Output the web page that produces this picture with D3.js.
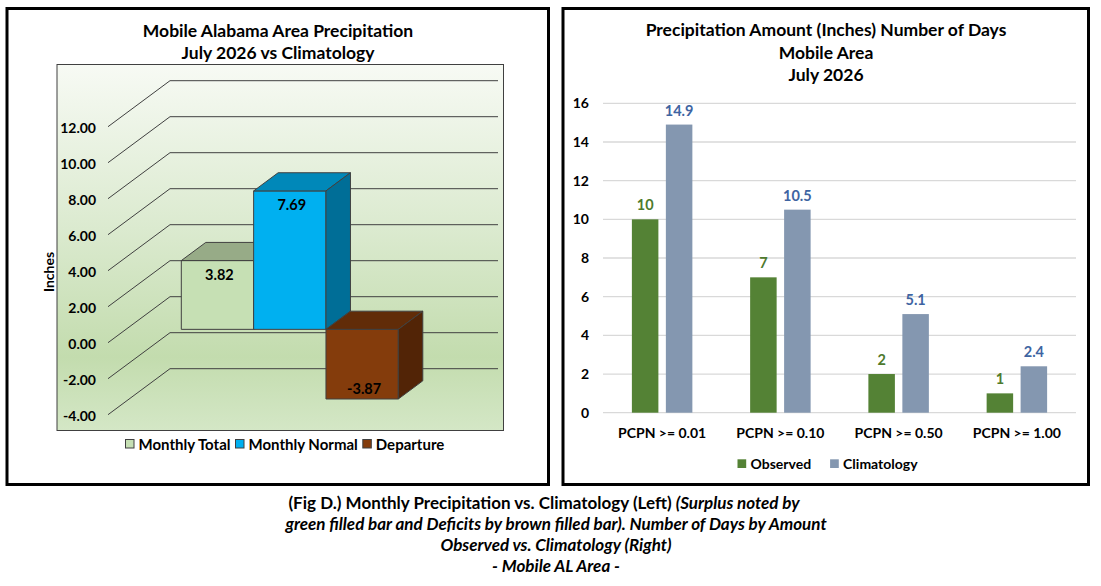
<!DOCTYPE html>
<html>
<head>
<meta charset="utf-8">
<script src="https://cdn.jsdelivr.net/npm/d3@7"></script>
<style>
  body { margin: 0; background: #fff; }
  text { font-family: Lato, "DejaVu Sans", sans-serif; font-weight: bold; fill: #000; }
</style>
</head>
<body>
<div id="main"></div>
<script>
// left chart data
var seriesL = ["Monthly Total", "Monthly Normal", "Departure"];
var valuesL = [3.82, 7.69, -3.87];
var ticksL = [-4, -2, 0, 2, 4, 6, 8, 10, 12];

// right chart data
var catsR = ["PCPN >= 0.01", "PCPN >= 0.10", "PCPN >= 0.50", "PCPN >= 1.00"];
var seriesR = ["Observed", "Climatology"];
var observed = [10, 7, 2, 1];
var climatology = [14.9, 10.5, 5.1, 2.4];
var ticksR = [0, 2, 4, 6, 8, 10, 12, 14, 16];

var caption = [
  [["(Fig D.) Monthly Precipitation vs. Climatology (Left) ", "normal"], ["(Surplus noted by", "italic"]],
  [["green filled bar and Deficits by brown filled bar). Number of Days by Amount", "italic"]],
  [["Observed vs. Climatology (Right)", "italic"]],
  [["- Mobile AL Area -", "italic"]]
];

// plain hyphen for negatives, like the original
var fmt2 = d3.formatLocale({ decimal: ".", thousands: ",", grouping: [3], currency: ["", ""], minus: "-" }).format(".2f");

var svg = d3.select("#main").append("svg")
  .attr("width", 1101)
  .attr("height", 586);

// panel frames
svg.append("rect").attr("x", 7).attr("y", 8.5).attr("width", 541.5).attr("height", 476)
  .attr("fill", "#fff").attr("stroke", "#000").attr("stroke-width", 3);
svg.append("rect").attr("x", 563).attr("y", 8.5).attr("width", 525.5).attr("height", 476)
  .attr("fill", "#fff").attr("stroke", "#000").attr("stroke-width", 3);

// ---------- left: 3D column chart ----------
var L = svg.append("g");

var grad = svg.append("defs").append("linearGradient")
  .attr("id", "wallGrad").attr("x1", 0).attr("y1", 0).attr("x2", 0).attr("y2", 1);
grad.append("stop").attr("offset", "0%").attr("stop-color", "#f7faf4");
grad.append("stop").attr("offset", "45%").attr("stop-color", "#dbeacf");
grad.append("stop").attr("offset", "80%").attr("stop-color", "#c3dcae");
grad.append("stop").attr("offset", "100%").attr("stop-color", "#d4e7c6");

L.append("rect").attr("x", 57).attr("y", 64.5).attr("width", 446.5).attr("height", 366)
  .attr("fill", "url(#wallGrad)").attr("stroke", "#404040").attr("stroke-width", 1);

L.selectAll(".ttl").data(["Mobile Alabama Area Precipitation", "July 2026 vs Climatology"])
  .enter().append("text")
  .attr("x", 278).attr("y", function (d, i) { return 37 + i * 22; })
  .attr("text-anchor", "middle").style("font-size", "17.5px")
  .text(function (d) { return d; });

var depth = 62, slope = 46 / 62, wallX = 108, wallRight = 498;
var yL = d3.scaleLinear().domain([0, 12]).range([342.7, 126.7]);
function proj(x, v, z) { return [x + z, yL(v) - z * slope]; }

// side wall diagonals + back wall lines
L.selectAll(".diag").data(ticksL).enter().append("polyline")
  .attr("points", function (d) {
    return [proj(wallX, d, 0), proj(wallX, d, depth), [wallRight, proj(wallX, d, depth)[1]]].join(" ");
  })
  .attr("fill", "none").attr("stroke", "#404040").attr("stroke-width", 1);

L.selectAll(".tick").data(ticksL).enter().append("text")
  .attr("x", 96).attr("y", function (d) { return yL(d) + 6.6; })
  .attr("text-anchor", "end").style("font-size", "14px")
  .text(function (d) { return fmt2(d); });

L.append("text").attr("transform", "translate(54,272) rotate(-90)")
  .attr("text-anchor", "middle").style("font-size", "14px").text("Inches");

var xL = d3.scaleBand().domain(seriesL).range([163.3, 380.3]);
var zF = 18, zB = 42.5;
var colorsL = {
  "Monthly Total": { front: "#c6e0b4", top: "#97ab87", side: "#8aa17a" },
  "Monthly Normal": { front: "#00b0f0", top: "#0088b9", side: "#006e97" },
  "Departure": { front: "#843c0c", top: "#612c08", side: "#522406" }
};

seriesL.forEach(function (s, i) {
  var v = valuesL[i];
  var x1 = xL(s), x2 = xL(s) + xL.bandwidth();
  var hi = Math.max(v, 0), lo = Math.min(v, 0);
  var faces = [
    { c: colorsL[s].front, p: [proj(x1, hi, zF), proj(x2, hi, zF), proj(x2, lo, zF), proj(x1, lo, zF)] },
    { c: colorsL[s].top, p: [proj(x1, hi, zF), proj(x2, hi, zF), proj(x2, hi, zB), proj(x1, hi, zB)] },
    { c: colorsL[s].side, p: [proj(x2, hi, zF), proj(x2, hi, zB), proj(x2, lo, zB), proj(x2, lo, zF)] }
  ];
  L.append("g").selectAll("polygon").data(faces).enter().append("polygon")
    .attr("points", function (d) { return d.p.join(" "); })
    .attr("fill", function (d) { return d.c; })
    .attr("stroke", "#404040").attr("stroke-width", 1).attr("stroke-linejoin", "round");
  var ly = v >= 0 ? proj(x1, hi, zF)[1] + 19 : proj(x1, lo, zF)[1] - 5.5;
  L.append("text").attr("x", (x1 + x2) / 2 + zF + 2).attr("y", ly)
    .attr("text-anchor", "middle").style("font-size", "14.5px")
    .text(fmt2(v));
});

// left legend
var legL = L.append("g");
var lx = 125.5;
seriesL.forEach(function (s) {
  legL.append("rect").attr("x", lx).attr("y", 439.5).attr("width", 8.5).attr("height", 8.5)
    .attr("fill", colorsL[s].front).attr("stroke", "#404040").attr("stroke-width", 1);
  var t = legL.append("text").attr("x", lx + 13).attr("y", 449.5)
    .style("font-size", "15px").text(s);
  lx += 13 + t.node().getComputedTextLength() + 5;
});

// ---------- right: clustered columns ----------
var R = svg.append("g");

R.selectAll(".ttl").data(["Precipitation Amount (Inches) Number of Days", "Mobile Area", "July 2026"])
  .enter().append("text")
  .attr("x", 826).attr("y", function (d, i) { return 36.3 + i * 22.5; })
  .attr("text-anchor", "middle").style("font-size", "17.5px")
  .text(function (d) { return d; });

var xR = d3.scaleBand().domain(catsR).range([603, 1076]);
var xS = d3.scaleBand().domain(seriesR).range([0, xR.bandwidth()]).paddingInner(0.22).paddingOuter(0.85);
var yR = d3.scaleLinear().domain([0, 16]).range([412.7, 103.3]);
var colorsR = { "Observed": "#548235", "Climatology": "#8497b0" };
var labelColR = { "Observed": "#4e7a2d", "Climatology": "#3e64a2" };

R.selectAll(".grid").data(ticksR).enter().append("line")
  .attr("x1", 603).attr("x2", 1076)
  .attr("y1", function (d) { return yR(d); }).attr("y2", function (d) { return yR(d); })
  .attr("stroke", "#d9d9d9").attr("stroke-width", 1.3);

R.selectAll(".tick").data(ticksR).enter().append("text")
  .attr("x", 589).attr("y", function (d) { return yR(d) + 5; })
  .attr("text-anchor", "end").style("font-size", "14px")
  .text(function (d) { return d; });

var rows = [];
catsR.forEach(function (c, i) {
  rows.push({ cat: c, s: "Observed", v: observed[i] });
  rows.push({ cat: c, s: "Climatology", v: climatology[i] });
});

R.selectAll(".bar").data(rows).enter().append("rect")
  .attr("x", function (d) { return xR(d.cat) + xS(d.s); })
  .attr("width", xS.bandwidth())
  .attr("y", function (d) { return yR(d.v); })
  .attr("height", function (d) { return yR(0) - yR(d.v); })
  .attr("fill", function (d) { return colorsR[d.s]; });

R.selectAll(".lab").data(rows).enter().append("text")
  .attr("x", function (d) { return xR(d.cat) + xS(d.s) + xS.bandwidth() / 2; })
  .attr("y", function (d) { return yR(d.v) - 9; })
  .attr("text-anchor", "middle").style("font-size", "14.5px")
  .style("fill", function (d) { return labelColR[d.s]; })
  .text(function (d) { return d.v; });

R.selectAll(".cat").data(catsR).enter().append("text")
  .attr("x", function (d) { return xR(d) + xR.bandwidth() / 2; })
  .attr("y", 437.5)
  .attr("text-anchor", "middle").style("font-size", "14px")
  .text(function (d) { return d; });

var rx = 737.5;
seriesR.forEach(function (s) {
  R.append("rect").attr("x", rx).attr("y", 459.3).attr("width", 8.7).attr("height", 8.7)
    .attr("fill", colorsR[s]);
  var t = R.append("text").attr("x", rx + 13).attr("y", 468.5)
    .style("font-size", "14px").text(s);
  rx += 13 + t.node().getComputedTextLength() + 19;
});

// ---------- caption ----------
caption.forEach(function (line, i) {
  var t = svg.append("text")
    .attr("x", i == 0 ? 544 : 556).attr("y", 509 + i * 21)
    .attr("text-anchor", "middle").style("font-size", "17px");
  line.forEach(function (part) {
    t.append("tspan").style("font-style", part[1]).text(part[0]);
  });
});
</script>
</body>
</html>
